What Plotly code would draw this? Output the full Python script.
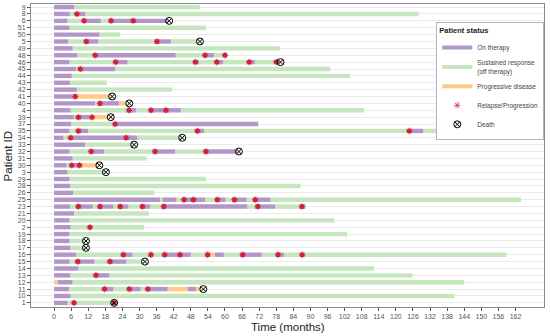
import plotly.graph_objects as go

# ---- data (months) ----
patient_order = ["1", "10", "11", "12", "13", "14", "15", "16", "17", "18", "19", "2", "20", "21",
                 "23", "25", "26", "28", "29", "3", "30", "31", "32", "33", "34", "35", "37", "39",
                 "4", "40", "41", "42", "43", "44", "45", "46", "48", "49", "5", "50", "51", "6", "8", "9"]

on_therapy = [
    ("9", 0, 7), ("8", 0, 5.5), ("8", 8, 11), ("6", 0, 4.7), ("6", 10.5, 16.4), ("6", 20, 39.8),
    ("51", 0, 5.4), ("50", 0, 15.9), ("5", 0, 4.9), ("5", 11.3, 15.5), ("5", 36.1, 41),
    ("49", 0, 6.5), ("48", 0, 8.2), ("48", 14.4, 42.7), ("48", 53, 56.1),
    ("46", 0, 5.4), ("46", 21.6, 25.8), ("46", 49.6, 50.8), ("46", 57.1, 59.4), ("46", 68.5, 70.5),
    ("45", 0, 7.7), ("45", 9.2, 21.4), ("44", 0, 6.2), ("43", 0, 5.5), ("42", 0, 8), ("41", 0, 6.5),
    ("40", 0, 14.4), ("40", 16.1, 22.9), ("4", 0, 5.8), ("4", 26.3, 28.8), ("4", 34, 44.5),
    ("39", 0, 7), ("39", 8.5, 12.4), ("37", 0, 6), ("37", 21.4, 71.7),
    ("35", 0, 5.4), ("35", 8.5, 12), ("35", 50.3, 52.6), ("35", 124.7, 129.6),
    ("34", 0, 3.3), ("34", 5.8, 29.2), ("33", 0, 10.9),
    ("32", 0, 5.4), ("32", 13, 17.5), ("32", 35.4, 42.5), ("32", 53.3, 64.3),
    ("31", 0, 6.5), ("30", 0, 4.4), ("30", 6.2, 8.9), ("3", 0, 4.7), ("29", 0, 5.4), ("28", 0, 5.7),
    ("26", 0, 6.7),
    ("25", 0, 37.2), ("25", 38.1, 43), ("25", 45.6, 53), ("25", 57.3, 60.2), ("25", 63.3, 67.6),
    ("25", 70.6, 76),
    ("23", 0, 5.6), ("23", 8.5, 13.6), ("23", 16.1, 20.8), ("23", 23.2, 26.1), ("23", 31, 33.8),
    ("23", 38.5, 67.8), ("23", 71.5, 77.6), ("23", 87, 88.2),
    ("21", 0, 7), ("20", 0, 5.4), ("2", 0, 5.8), ("19", 0, 5.4), ("18", 0, 5.4), ("17", 0, 5.7),
    ("16", 0, 7.7), ("16", 24.3, 27.5), ("16", 38.8, 48), ("16", 56.5, 59.6), ("16", 66.2, 72.9),
    ("16", 78.6, 80.7),
    ("15", 0, 5.4), ("15", 8.3, 14.2), ("15", 19.6, 25.3), ("14", 0, 8.5),
    ("13", 0, 5.6), ("13", 14.7, 19.4), ("12", 1.2, 6.5),
    ("11", 0, 5.3), ("11", 17.7, 20.8), ("11", 26.4, 30.4), ("11", 32.9, 39.9), ("11", 47, 49.8),
    ("10", 0, 5.8), ("1", 0, 4.7),
]

off_therapy = [
    ("9", 7, 51.2), ("8", 5.5, 8), ("8", 11, 128), ("6", 4.7, 10.5), ("6", 16.4, 20),
    ("51", 5.4, 53.3), ("50", 15.9, 23.2), ("5", 4.9, 11.3), ("5", 15.5, 36.1), ("5", 41, 50.8),
    ("49", 6.5, 79.3), ("48", 8.2, 14.4), ("48", 42.7, 53), ("48", 56.1, 60),
    ("46", 5.4, 21.6), ("46", 25.8, 49.6), ("46", 50.8, 57.1), ("46", 59.4, 68.5), ("46", 70.5, 79),
    ("45", 7.7, 9.2), ("45", 21.4, 97), ("44", 6.2, 103.9), ("43", 5.5, 18.5), ("42", 8, 41.5),
    ("41", 6.5, 7.4), ("40", 14.4, 16.1), ("4", 5.8, 26.3), ("4", 28.8, 34), ("4", 44.5, 108.9),
    ("39", 7, 8.5), ("39", 12.4, 13.3), ("37", 6, 21.4),
    ("35", 5.4, 8.5), ("35", 12, 50.3), ("35", 52.6, 124.7), ("35", 129.6, 137.8),
    ("34", 3.3, 5.8), ("34", 29.2, 44.8), ("33", 10.9, 27.8),
    ("32", 5.4, 13), ("32", 17.5, 35.4), ("32", 42.5, 53.3), ("31", 6.5, 32.5), ("30", 4.4, 6.2),
    ("3", 4.7, 18), ("29", 5.4, 53.3), ("28", 5.7, 86.5), ("26", 6.7, 35.2),
    ("25", 37.2, 38.1), ("25", 43, 45.6), ("25", 53, 57.3), ("25", 60.2, 63.3), ("25", 67.6, 70.6),
    ("25", 76, 164),
    ("23", 5.6, 8.5), ("23", 13.6, 16.1), ("23", 20.8, 23.2), ("23", 26.1, 31), ("23", 33.8, 38.5),
    ("23", 67.8, 71.5), ("23", 77.6, 87),
    ("21", 7, 33.3), ("20", 5.4, 98.4), ("2", 5.8, 31.6), ("19", 5.4, 102.9), ("18", 5.4, 11),
    ("17", 5.7, 11),
    ("16", 7.7, 24.3), ("16", 27.5, 38.8), ("16", 48, 53.9), ("16", 59.6, 66.2), ("16", 72.9, 78.6),
    ("16", 80.7, 158.8),
    ("15", 5.4, 8.3), ("15", 14.2, 19.6), ("15", 25.3, 31.5), ("14", 8.5, 112.3),
    ("13", 5.6, 14.7), ("13", 19.4, 125.8), ("12", 6.5, 144),
    ("11", 5.3, 17.7), ("11", 20.8, 26.4), ("11", 30.4, 32.9),
    ("10", 5.8, 140.5), ("1", 4.7, 21),
]

progressive = [
    ("41", 7.4, 19.6), ("40", 22.9, 25.3), ("39", 13.3, 19), ("30", 8.9, 15),
    ("16", 53.9, 56.5), ("12", 0, 1.2), ("11", 39.9, 47), ("11", 49.8, 51.5),
]

relapse_ids = ["8", "6", "6", "6", "5", "5", "48", "48", "48", "46", "46", "46", "46", "46",
               "45", "41", "40", "4", "4", "4", "39", "39", "37", "35", "35", "35", "34", "34",
               "32", "32", "32", "30", "30", "25", "25", "25", "25", "25",
               "23", "23", "23", "23", "23", "23", "23", "2",
               "16", "16", "16", "16", "16", "16", "16", "16", "15", "15", "13",
               "11", "11", "11", "1", "1"]
relapse_t = [8, 10.5, 20, 27.8, 11.3, 36.1, 14.4, 53, 60, 21.6, 49.6, 57.1, 68.5, 78,
             9.2, 7.4, 16.1, 26.3, 34, 39.3, 8.5, 13.3, 21.4, 8.5, 50.3, 124.7, 5.8, 25.3,
             13, 35.4, 53.3, 6.2, 8.9, 45.6, 48.9, 57.3, 63.3, 70.6,
             8.5, 16.1, 23.2, 31, 38.5, 71.5, 87, 12.6,
             24.3, 34, 38.8, 44.2, 53.9, 66.2, 78.6, 87.1, 8.3, 19.6, 14.7,
             17.7, 26.4, 32.9, 7, 21.1]

death_ids = ["6", "5", "46", "41", "40", "39", "34", "33", "32", "30", "3", "18", "17", "15", "11", "1"]
death_t = [40.4, 51.2, 79.5, 20.4, 26.4, 19.9, 45, 28.1, 64.9, 15.9, 18.2, 11.2, 11.2, 31.9, 52.4, 21.1]

x_ticks = list(range(0, 163, 6))

# ---- styles ----
C_ON = "#b396c8"
C_OFF = "#c6e6bf"
C_PD = "#fdca88"
C_REL = "#d2213f"
FONT = "Liberation Sans"
BAR_W = 0.64

fig = go.Figure()


def add_bars(segs, color):
    fig.add_trace(go.Bar(
        orientation="h",
        y=[s[0] for s in segs],
        base=[s[1] for s in segs],
        x=[s[2] - s[1] for s in segs],
        width=BAR_W,
        marker=dict(color=color, line=dict(width=0)),
        showlegend=False,
        hoverinfo="skip",
    ))


add_bars(off_therapy, C_OFF)
add_bars(on_therapy, C_ON)
add_bars(progressive, C_PD)

# legend stand-ins for bar statuses
for name, col, grp in [("On therapy", C_ON, "a"),
                       ("Sustained response<br>(off therapy)", C_OFF, "b"),
                       ("Progressive disease", C_PD, "c")]:
    fig.add_trace(go.Scatter(x=[None], y=[None], mode="lines", name=name,
                             line=dict(color=col, width=4), legendgroup=grp))

# relapse markers
fig.add_trace(go.Scatter(x=relapse_t, y=relapse_ids, mode="markers", showlegend=False,
                         marker=dict(symbol="circle", size=5, color=C_REL), hoverinfo="skip"))
fig.add_trace(go.Scatter(x=relapse_t, y=relapse_ids, mode="markers", name="Relapse/Progression",
                         legendgroup="d",
                         marker=dict(symbol="asterisk-open", size=5.5, color=C_REL,
                                     line=dict(color=C_REL, width=0.7)), hoverinfo="skip"))
# death markers
fig.add_trace(go.Scatter(x=death_t, y=death_ids, mode="markers", name="Death", legendgroup="e",
                         marker=dict(symbol="circle-x-open", size=7, color="black",
                                     line=dict(color="black", width=1)), hoverinfo="skip"))

fig.update_layout(
    width=550, height=336,
    margin=dict(l=31, r=6, t=4, b=29),
    paper_bgcolor="white", plot_bgcolor="white",
    barmode="overlay",
    font=dict(family=FONT, color="#333333"),
    showlegend=True,
    legend=dict(
        x=0.79, y=0.94, xanchor="left", yanchor="top",
        bgcolor="white", bordercolor="#b5b5b5", borderwidth=1,
        title=dict(text="<b>Patient status</b>", font=dict(size=7.5, color="#222222")),
        font=dict(size=6.5, color="#444444"),
        tracegroupgap=0, itemwidth=30,
    ),
    xaxis=dict(
        range=[-8.1, 172], tickmode="array", tickvals=x_ticks,
        ticks="outside", ticklen=3, tickcolor="#555555", tickangle=0,
        tickfont=dict(size=7, color="#555555"),
        showgrid=False, zeroline=False, automargin=False,
        showline=True, linecolor="#8a8a8a", linewidth=1, mirror=True,
    ),
    yaxis=dict(
        type="category", categoryorder="array", categoryarray=patient_order,
        tickmode="array", tickvals=patient_order, ticktext=patient_order, tickangle=0,
        range=[-0.6, 43.45],
        ticks="outside", ticklen=3, tickcolor="#555555",
        tickfont=dict(size=7, color="#555555"),
        showgrid=True, gridcolor="#ebebeb", gridwidth=1, zeroline=False, automargin=False,
        showline=True, linecolor="#8a8a8a", linewidth=1, mirror=True,
    ),
    annotations=[
        dict(text="Time (months)", xref="paper", yref="paper", x=0.5, y=-0.066,
             xanchor="center", yanchor="middle", showarrow=False,
             font=dict(size=11.5, color="#222222")),
        dict(text="Patient ID", xref="paper", yref="paper", x=-0.045, y=0.5,
             xanchor="center", yanchor="middle", textangle=-90, showarrow=False,
             font=dict(size=11.5, color="#222222")),
    ],
)

fig.write_html("out.html", config={"displayModeBar": False},
               post_script="document.body.style.margin='0';document.body.style.overflow='hidden';")
